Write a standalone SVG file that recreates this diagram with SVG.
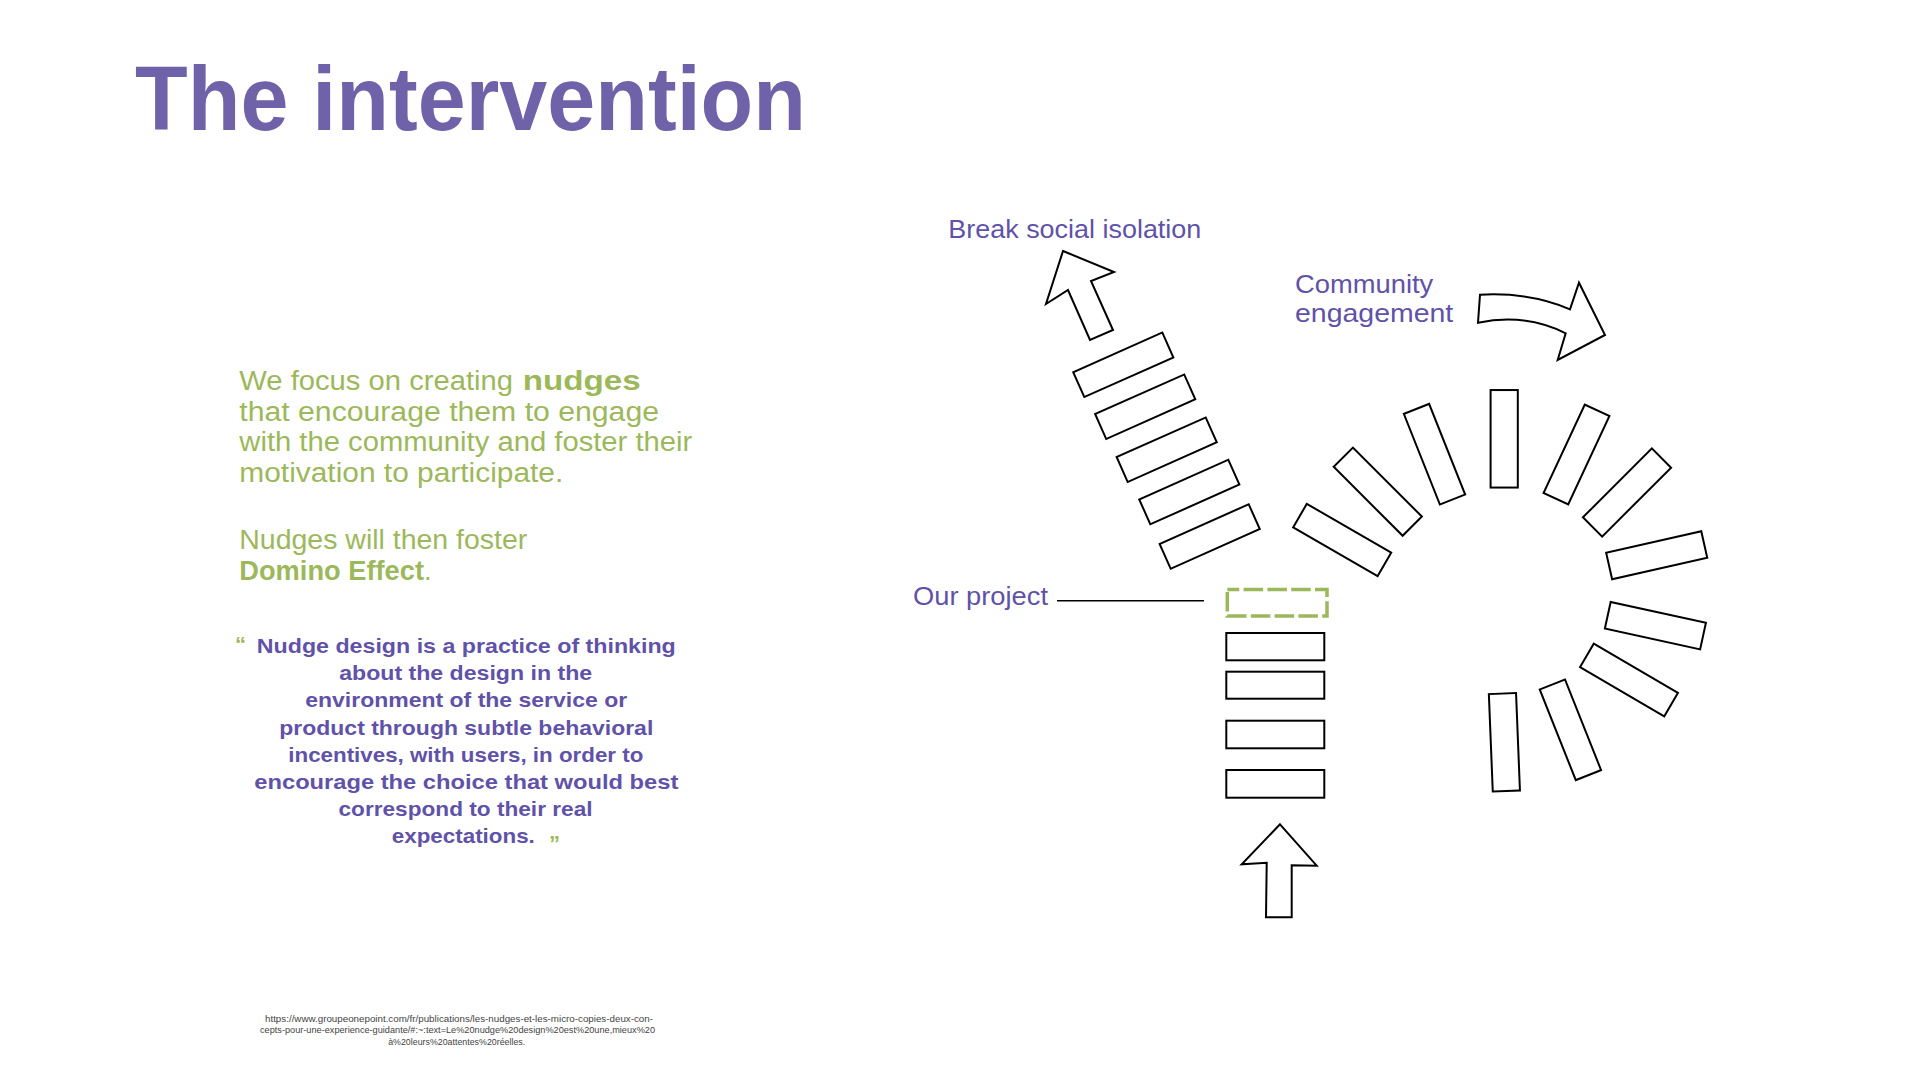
<svg xmlns="http://www.w3.org/2000/svg" width="1920" height="1080" viewBox="0 0 1920 1080">
<style>
.ttl{font-family:"Liberation Sans",Arial,sans-serif;font-weight:bold;font-size:90px;fill:#6F62A8}
.grn{font-family:"Liberation Sans",Arial,sans-serif;font-size:27px;fill:#9CB85B}
.grnb{font-family:"Liberation Sans",Arial,sans-serif;font-size:27px;font-weight:bold;fill:#9CB85B}
.qt{font-family:"Liberation Sans",Arial,sans-serif;font-size:21px;font-weight:bold;fill:#5F52A8}
.qm{font-family:"Liberation Sans",Arial,sans-serif;font-size:22px;font-weight:bold;fill:#9CB85B}
.lbl{font-family:"Liberation Sans",Arial,sans-serif;font-size:25px;fill:#5F52A8}
.fn{font-family:"Liberation Sans",Arial,sans-serif;font-size:9px;fill:#444}
.blk{fill:#fff;stroke:#000;stroke-width:2;stroke-linejoin:miter}
.dash{fill:none;stroke:#9CB85B;stroke-width:3.5;stroke-dasharray:19.5 4.3;stroke-dashoffset:7.5}
</style>
<defs>
<rect id="dom" x="-48.75" y="-13.6" width="97.5" height="27.2"/>
</defs>
<rect width="1920" height="1080" fill="#fff"/>

<g id="title">
<text class="ttl" x="135" y="129.5" textLength="671" lengthAdjust="spacingAndGlyphs">The intervention</text>
</g>

<g id="intro-text">
<text class="grn" x="239.3" y="390" textLength="273.7" lengthAdjust="spacingAndGlyphs">We focus on creating</text>
<text class="grnb" x="522.7" y="390" textLength="118" lengthAdjust="spacingAndGlyphs">nudges</text>
<text class="grn" x="239.3" y="420.7" textLength="419.7" lengthAdjust="spacingAndGlyphs">that encourage them to engage</text>
<text class="grn" x="239.3" y="451.3" textLength="453" lengthAdjust="spacingAndGlyphs">with the community and foster their</text>
<text class="grn" x="239.3" y="482" textLength="324" lengthAdjust="spacingAndGlyphs">motivation to participate.</text>
<text class="grn" x="239.3" y="549" textLength="288" lengthAdjust="spacingAndGlyphs">Nudges will then foster</text>
<text class="grnb" x="239.3" y="580" textLength="184.7" lengthAdjust="spacingAndGlyphs">Domino Effect</text>
<text class="grn" x="424" y="580">.</text>
</g>

<g id="quote">
<text class="qm" x="235" y="652">“</text>
<text class="qt" text-anchor="middle" x="466.3" y="653" textLength="419" lengthAdjust="spacingAndGlyphs">Nudge design is a practice of thinking</text>
<text class="qt" text-anchor="middle" x="465.7" y="680" textLength="253" lengthAdjust="spacingAndGlyphs">about the design in the</text>
<text class="qt" text-anchor="middle" x="466.2" y="707" textLength="322" lengthAdjust="spacingAndGlyphs">environment of the service or</text>
<text class="qt" text-anchor="middle" x="466.3" y="734.5" textLength="374" lengthAdjust="spacingAndGlyphs">product through subtle behavioral</text>
<text class="qt" text-anchor="middle" x="465.8" y="761.5" textLength="355" lengthAdjust="spacingAndGlyphs">incentives, with users, in order to</text>
<text class="qt" text-anchor="middle" x="466.3" y="788.5" textLength="424" lengthAdjust="spacingAndGlyphs">encourage the choice that would best</text>
<text class="qt" text-anchor="middle" x="465.5" y="815.5" textLength="254" lengthAdjust="spacingAndGlyphs">correspond to their real</text>
<text class="qt" text-anchor="middle" x="463.3" y="842.7" textLength="143" lengthAdjust="spacingAndGlyphs">expectations.</text>
<text class="qm" x="549" y="851">”</text>
</g>

<g id="footnote">
<text class="fn" text-anchor="middle" x="459" y="1021.7" textLength="388" lengthAdjust="spacingAndGlyphs">https://www.groupeonepoint.com/fr/publications/les-nudges-et-les-micro-copies-deux-con-</text>
<text class="fn" text-anchor="middle" x="457.5" y="1033.3" textLength="395" lengthAdjust="spacingAndGlyphs">cepts-pour-une-experience-guidante/#:~:text=Le%20nudge%20design%20est%20une,mieux%20</text>
<text class="fn" text-anchor="middle" x="456.7" y="1044.5" textLength="137" lengthAdjust="spacingAndGlyphs">à%20leurs%20attentes%20réelles.</text>
</g>

<g id="label-break">
<text class="lbl" x="948.3" y="238.3" textLength="253" lengthAdjust="spacingAndGlyphs">Break social isolation</text>
</g>
<g id="label-community">
<text class="lbl" x="1295" y="293.3" textLength="138.3" lengthAdjust="spacingAndGlyphs">Community</text>
<text class="lbl" x="1295" y="321.7" textLength="158.3" lengthAdjust="spacingAndGlyphs">engagement</text>
</g>
<g id="label-project">
<text class="lbl" x="913" y="605" textLength="135" lengthAdjust="spacingAndGlyphs">Our project</text>
</g>

<g id="arrow-break">
<polygon class="blk" points="1063,251 1114,272 1091,281 1113,330 1090,340 1068,290 1046,304"/>
</g>
<g id="arrow-community">
<path class="blk" d="M1480,294.7 Q1530,292 1570,309.3 L1579,282.7 L1605,335 L1557.7,360 L1565.7,333.3 Q1525,313 1478,322.7 Z"/>
</g>
<g id="arrow-up">
<polygon class="blk" points="1280,824.3 1316.7,865.7 1291.7,865.3 1291.7,917.3 1266,917.3 1266.7,862.7 1241.7,864.3"/>
</g>

<g id="break-stack">
<use href="#dom" class="blk" transform="translate(1123.3,364.8) rotate(-24)"/>
<use href="#dom" class="blk" transform="translate(1145.2,406.7) rotate(-24)"/>
<use href="#dom" class="blk" transform="translate(1166.7,449.7) rotate(-24)"/>
<use href="#dom" class="blk" transform="translate(1189.3,492) rotate(-24)"/>
<use href="#dom" class="blk" transform="translate(1209.7,536.5) rotate(-24)"/>
</g>

<g id="our-project">
<rect class="dash" x="1227.3" y="589.5" width="99.7" height="26.5"/>
</g>

<g id="base-stack">
<rect class="blk" x="1226.3" y="633" width="98" height="27.3"/>
<rect class="blk" x="1226.3" y="671.7" width="98" height="27"/>
<rect class="blk" x="1226.3" y="720.7" width="98" height="27.6"/>
<rect class="blk" x="1226.3" y="770" width="98" height="27.7"/>
</g>

<g id="community-arc">
<use href="#dom" class="blk" transform="translate(1342.2,540) rotate(30)"/>
<use href="#dom" class="blk" transform="translate(1377.8,491.7) rotate(45)"/>
<use href="#dom" class="blk" transform="translate(1434.5,454.2) rotate(68.3)"/>
<use href="#dom" class="blk" transform="translate(1504.2,438.8) rotate(90)"/>
<use href="#dom" class="blk" transform="translate(1576.5,454.5) rotate(115)"/>
<use href="#dom" class="blk" transform="translate(1627,492.5) rotate(135)"/>
<use href="#dom" class="blk" transform="translate(1656.7,555.2) rotate(-12.7)"/>
<use href="#dom" class="blk" transform="translate(1655.4,625.7) rotate(12.3)"/>
<use href="#dom" class="blk" transform="translate(1629,680) rotate(30.3)"/>
<use href="#dom" class="blk" transform="translate(1570.4,729.8) rotate(68.3)"/>
<use href="#dom" class="blk" transform="translate(1504.4,742.3) rotate(87.7)"/>
</g>

<g id="connectors">
<line x1="1057" y1="600.7" x2="1204" y2="600.7" stroke="#000" stroke-width="1.5"/>
</g>
</svg>
